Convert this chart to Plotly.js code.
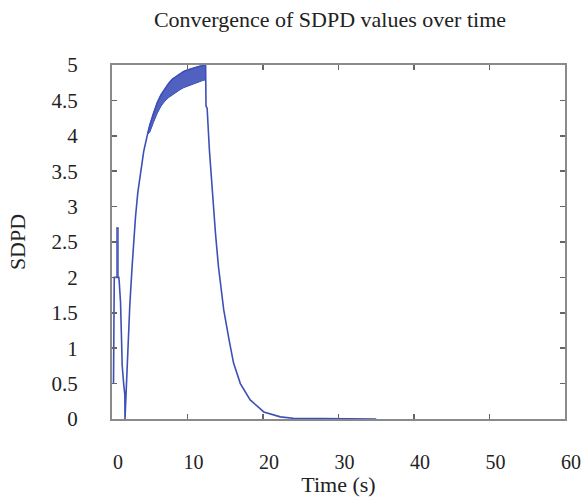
<!DOCTYPE html>
<html>
<head>
<meta charset="utf-8">
<script src="https://cdn.plot.ly/plotly-3.0.1.min.js"></script>
<style>html,body{margin:0;padding:0;background:#fff;}#chart{width:584px;height:497px;}</style>
</head>
<body>
<div id="chart"></div>
<script>
// Main SDPD trace: time (s) and value
const timeS = [
  0.20, 0.30, 0.60, 0.90, 0.95, 1.13, 1.26, 1.35, 1.56, 1.70,
  1.72, 1.80, 1.88, 2.00, 2.22, 2.36, 2.68, 2.90, 3.11, 3.42,
  3.77, 4.20, 4.70, 5.00, 5.50, 6.00, 6.50, 7.00, 7.50, 8.00,
  8.50, 9.00, 9.50, 10.00, 10.50, 11.00, 11.50, 12.00, 12.40, 12.45,
  12.60, 12.90, 13.20, 13.70, 14.10, 14.80, 15.50, 16.10, 17.00, 18.30,
  20.10, 22.30, 24.00, 27.00, 30.00, 35.00
];
const sdpd = [
  0.50, 2.00, 2.00, 2.00, 1.95, 1.65, 1.14, 0.76, 0.48, 0.34,
  0.00, 0.20, 0.44, 0.86, 1.28, 1.61, 2.18, 2.55, 2.85, 3.20,
  3.48, 3.78, 4.02, 4.15, 4.32, 4.47, 4.58, 4.67, 4.74, 4.80,
  4.84, 4.88, 4.91, 4.93, 4.95, 4.97, 4.98, 4.99, 5.00, 4.42,
  4.39, 3.80, 3.33, 2.63, 2.15, 1.54, 1.12, 0.79, 0.50, 0.27,
  0.10, 0.03, 0.01, 0.005, 0.00, 0.00
];
// Oscillation band near t = 0.6-0.9 s (min / max of the spike)
const spikeTime = [0.55, 0.90];
const spikeLow  = [2.00, 2.00];
const spikeHigh = [2.70, 2.70];
// Oscillation band on the plateau (lower / upper envelope)
const bandTime  = [4.70, 5.00, 5.50, 6.00, 6.50, 7.00, 7.50, 8.00, 8.50, 9.00, 9.50, 10.00, 10.50, 11.00, 11.50, 12.00, 12.40];
const bandLow   = [4.02, 4.05, 4.19, 4.32, 4.42, 4.49, 4.54, 4.58, 4.62, 4.65, 4.68, 4.70, 4.72, 4.75, 4.77, 4.78, 4.79];
const bandHigh  = [4.02, 4.15, 4.32, 4.47, 4.58, 4.67, 4.74, 4.80, 4.84, 4.88, 4.91, 4.93, 4.95, 4.97, 4.98, 4.99, 5.00];

const xTickVals = [0, 10, 20, 30, 40, 50, 60];
const yTickVals = [0, 0.5, 1, 1.5, 2, 2.5, 3, 3.5, 4, 4.5, 5];

const serif = "Liberation Serif, Times New Roman, serif";
const blue = '#3d50b8';
const bandFill = 'rgba(61,80,184,0.9)';
const frame = '#8a8a8a';

const traces = [
  {x: spikeTime, y: spikeHigh, yaxis: 'y2', type: 'scatter', mode: 'lines', line: {color: blue, width: 1}, hoverinfo: 'skip'},
  {x: spikeTime, y: spikeLow, yaxis: 'y2', type: 'scatter', mode: 'lines', line: {color: blue, width: 1}, fill: 'tonexty', fillcolor: bandFill, hoverinfo: 'skip'},
  {x: bandTime, y: bandHigh, yaxis: 'y2', type: 'scatter', mode: 'lines', line: {color: blue, width: 1}, hoverinfo: 'skip'},
  {x: bandTime, y: bandLow, yaxis: 'y2', type: 'scatter', mode: 'lines', line: {color: blue, width: 1}, fill: 'tonexty', fillcolor: bandFill, hoverinfo: 'skip'},
  {x: timeS, y: sdpd, type: 'scatter', mode: 'lines', line: {color: blue, width: 1.6}, hoverinfo: 'skip'}
];

Plotly.newPlot('chart', traces, {
  width: 584, height: 497,
  margin: {l: 112, r: 19, t: 65, b: 78, pad: 0},
  paper_bgcolor: '#ffffff', plot_bgcolor: '#ffffff',
  showlegend: false,
  font: {family: serif, size: 21, color: '#222'},
  title: {text: 'Convergence of SDPD values over time', x: 0.565, xanchor: 'center', y: 0.962, yanchor: 'middle',
          font: {family: serif, size: 22, color: '#222'}},
  xaxis: {
    range: [0, 60], tickvals: xTickVals, ticks: 'inside', ticklen: 5, tickcolor: '#666', tickwidth: 1.5,
    showline: true, linecolor: frame, linewidth: 2, mirror: 'ticks',
    showgrid: false, zeroline: false, automargin: false,
    ticklabelstandoff: 24, ticklabelshift: 6,
    tickfont: {family: serif, size: 20, color: '#222'},
    title: {text: 'Time (s)', standoff: 2, font: {family: serif, size: 22, color: '#222'}}
  },
  // labelled y axis: transparent outside ticks push the labels away from the frame
  yaxis: {
    range: [0, 5], tickvals: yTickVals, ticks: 'outside', ticklen: 28, tickcolor: 'rgba(0,0,0,0)',
    showline: true, linecolor: frame, linewidth: 2, mirror: true,
    showgrid: false, zeroline: false, automargin: false,
    tickfont: {family: serif, size: 21, color: '#222'},
    title: {text: 'SDPD', standoff: 20, font: {family: serif, size: 22, color: '#222'}}
  },
  // overlay y axis that draws the visible inside tick marks
  yaxis2: {
    overlaying: 'y', side: 'left', range: [0, 5], tickvals: yTickVals,
    ticks: 'inside', ticklen: 5, tickcolor: '#666', tickwidth: 1.5,
    showticklabels: false, showline: true, linecolor: frame, linewidth: 2, mirror: 'ticks',
    showgrid: false, zeroline: false, automargin: false
  }
}, {staticPlot: true, displayModeBar: false});
</script>
</body>
</html>
